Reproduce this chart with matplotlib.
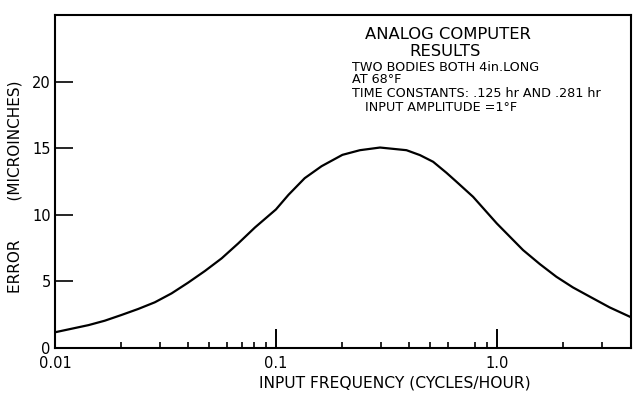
import matplotlib.pyplot as plt
import numpy as np

# values
freq = [0.01, 0.0142, 0.0168, 0.02, 0.0238, 0.0283, 0.0337, 0.04, 0.0477,
        0.0568, 0.0675, 0.0804, 0.1, 0.114, 0.135, 0.161, 0.2, 0.24, 0.296,
        0.39, 0.449, 0.515, 0.592, 0.657, 0.781, 1.0, 1.315, 1.566, 1.86,
        2.21, 2.64, 3.24, 4.0]
error = [1.18, 1.72, 2.05, 2.48, 2.93, 3.43, 4.1, 4.9, 5.78,
         6.73, 7.85, 9.05, 10.4, 11.5, 12.75, 13.65, 14.5, 14.85, 15.05,
         14.85, 14.48, 13.98, 13.15, 12.48, 11.35, 9.35, 7.35, 6.3, 5.35,
         4.55, 3.85, 3.05, 2.35]

x_major = [0.01, 0.1, 1.0]
x_major_labels = ['0.01', '0.1', '1.0']
x_minor = [0.02, 0.03, 0.04, 0.05, 0.06, 0.07, 0.08, 0.09,
           0.2, 0.3, 0.4, 0.5, 0.6, 0.8, 0.9, 2, 3]
y_ticks = [0, 5, 10, 15, 20]

plt.rcParams['font.family'] = ['DejaVu Sans']

fig = plt.figure(figsize=(6.37, 3.93), dpi=100)
ax = fig.add_axes([55/637, 1 - 348/393, 576/637, 333/393])

ax.plot(freq, error, color='black', linewidth=1.6)

ax.set_xscale('log')
ax.set_xlim(0.01, 4.05)
ax.set_ylim(0, 25)

ax.set_xticks(x_major)
ax.set_xticklabels(x_major_labels)
ax.set_xticks(x_minor, minor=True)
ax.xaxis.set_minor_formatter(plt.NullFormatter())
ax.set_yticks(y_ticks)

ax.tick_params(axis='x', which='major', direction='in', length=14, width=1.4,
               labelsize=10.5, pad=6)
ax.tick_params(axis='x', which='minor', direction='in', length=4.5, width=1.2)
ax.tick_params(axis='y', which='major', direction='in', length=13, width=1.2,
               labelsize=10.5, pad=3)
ax.tick_params(axis='y', which='minor', left=False)

for s in ax.spines.values():
    s.set_linewidth(1.5)

ax.text(0.682, 0.94, 'ANALOG COMPUTER', transform=ax.transAxes,
        ha='center', va='center', fontsize=11.8)
ax.text(0.677, 0.889, 'RESULTS', transform=ax.transAxes,
        ha='center', va='center', fontsize=11.8)
ax.text(0.516, 0.824, 'TWO BODIES BOTH 4in.LONG\nAT 68°F',
        transform=ax.transAxes, ha='left', va='center', fontsize=9.2,
        linespacing=0.85)
ax.text(0.516, 0.763, 'TIME CONSTANTS: .125 hr AND .281 hr',
        transform=ax.transAxes, ha='left', va='center', fontsize=9.2)
ax.text(0.538, 0.721, 'INPUT AMPLITUDE =1°F', transform=ax.transAxes,
        ha='left', va='center', fontsize=9.2)

fig.text(395/637, 1 - 383/393, 'INPUT FREQUENCY (CYCLES/HOUR)',
         ha='center', va='center', fontsize=11.2)
fig.text(15/637, 1 - 187/393, 'ERROR        (MICROINCHES)', rotation=90,
         ha='center', va='center', fontsize=11)

fig.savefig('out.png', dpi=100)
